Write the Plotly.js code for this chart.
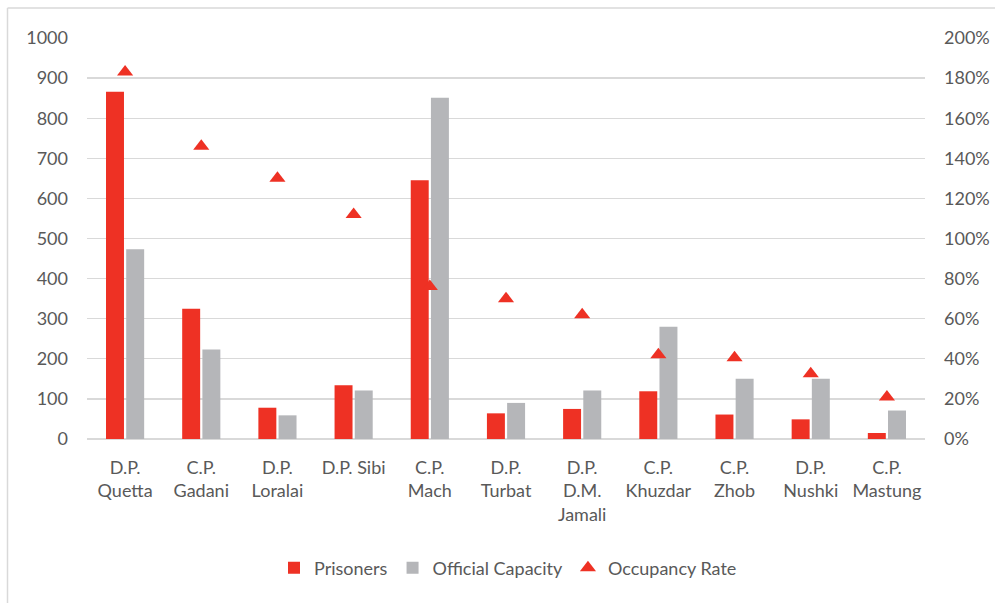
<!DOCTYPE html>
<html>
<head>
<meta charset="utf-8">
<script src="https://cdn.plot.ly/plotly-3.0.1.min.js"></script>
<style>html,body{margin:0;padding:0;background:#fff;}#chart{width:995px;height:603px;}</style>
</head>
<body>
<div id="chart"></div>
<script>
var categories = ["D.P.<br>Quetta","C.P.<br>Gadani","D.P.<br>Loralai","D.P. Sibi","C.P.<br>Mach","D.P.<br>Turbat","D.P.<br>D.M.<br>Jamali","C.P.<br>Khuzdar","C.P.<br>Zhob","D.P.<br>Nushki","C.P.<br>Mastung"];
var prisoners = [866, 325, 78, 134, 645, 64, 75, 119, 61, 49, 15];
var capacity = [473, 223, 59, 121, 851, 90, 121, 280, 150, 150, 71];
var occupancy = [1.83, 1.46, 1.30, 1.12, 0.76, 0.70, 0.62, 0.42, 0.405, 0.325, 0.21];

var RED = '#EE3124', GRAY = '#B5B6B9', TXT = '#595959', GRID = '#D9D9D9';
var M = {l: 87, r: 70, t: 38, b: 164};
var W = 995, H = 603;
var pw = W - M.l - M.r, ph = H - M.t - M.b;
function px2paperX(x){ return (x - M.l) / pw; }
function px2paperY(y){ return (H - M.b - y) / ph; }

var traces = [
  {type: 'bar', name: 'Prisoners', x: categories, y: prisoners, marker: {color: RED}, yaxis: 'y'},
  {type: 'bar', name: 'Official Capacity', x: categories, y: capacity, marker: {color: GRAY}, yaxis: 'y'},
  {type: 'scatter', mode: 'markers', name: 'Occupancy Rate', x: categories, y: occupancy, yaxis: 'y2',
   marker: {symbol: 'triangle-up', size: 14, color: RED, line: {width: 0}}}
];

var font = {family: 'Lato, "Open Sans", sans-serif', size: 18, color: TXT};
var layout = {
  width: W, height: H,
  margin: M,
  paper_bgcolor: '#fff', plot_bgcolor: '#fff',
  font: font,
  barmode: 'group', bargap: 0.47, bargroupgap: 0.11,
  showlegend: true,
  legend: {orientation: 'h', x: px2paperX(508), xanchor: 'center', y: px2paperY(568), yanchor: 'middle',
           font: font, traceorder: 'normal', itemwidth: 30},
  xaxis: {type: 'category', range: [-0.5, categories.length - 0.5], autorange: false,
          showgrid: false, zeroline: false, showline: false, ticks: '',
          tickfont: font, ticklabelstandoff: 16, automargin: false},
  yaxis: {range: [0, 1000], dtick: 100, showgrid: true, gridcolor: GRID, gridwidth: 1.3,
          zeroline: true, zerolinecolor: GRID, zerolinewidth: 1.3, showline: false, ticks: '',
          tickfont: font, ticklabelstandoff: 18, automargin: false},
  yaxis2: {range: [0, 2], dtick: 0.2, tickformat: '.0%', overlaying: 'y', side: 'right',
           showgrid: false, zeroline: false, showline: false, ticks: '',
           tickfont: font, ticklabelstandoff: 18, automargin: false},
  shapes: [
    {type: 'line', xref: 'paper', yref: 'paper', x0: px2paperX(7.5), x1: px2paperX(7.5), y0: px2paperY(620), y1: px2paperY(8),
     line: {color: GRID, width: 1.5}},
    {type: 'line', xref: 'paper', yref: 'paper', x0: px2paperX(7.5), x1: px2paperX(1010), y0: px2paperY(8), y1: px2paperY(8),
     line: {color: GRID, width: 1.5}}
  ],
  hovermode: false
};

Plotly.newPlot('chart', traces, layout, {staticPlot: true, displayModeBar: false});
</script>
</body>
</html>
